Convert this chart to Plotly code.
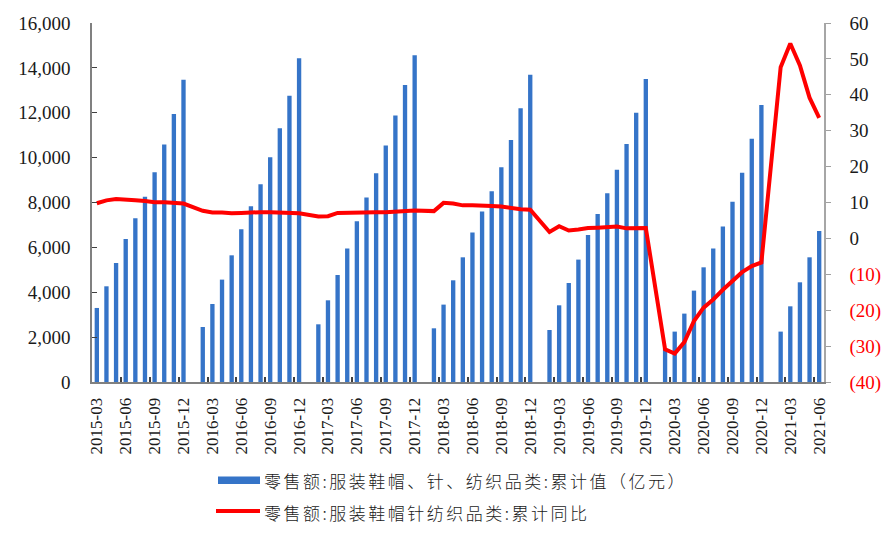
import plotly.graph_objects as go

# ---- data -------------------------------------------------------------
months = []
for y in range(2015, 2022):
    for m in range(1, 13):
        if (y == 2015 and m < 3) or (y == 2021 and m > 6):
            continue
        months.append(f"{y}-{m:02d}")

# 零售额:服装鞋帽、针、纺织品类:累计值（亿元）  (January has no separate value)
retail_2015 = [3300, 4265, 5303, 6373, 7295, 8255, 9345, 10580, 11943, 13476]
retail_2016 = [None, 2451, 3476, 4563, 5646, 6805, 7830, 8810, 10013, 11306, 12763, 14425]
retail_2017 = [None, 2571, 3641, 4768, 5945, 7162, 8225, 9300, 10535, 11872, 13240, 14559]
retail_2018 = [None, 2393, 3449, 4532, 5557, 6658, 7594, 8505, 9568, 10785, 12197, 13699]
retail_2019 = [None, 2317, 3418, 4412, 5455, 6551, 7487, 8416, 9465, 10606, 12005, 13503]
retail_2020 = [None, 1500, 2246, 3048, 4073, 5111, 5950, 6930, 8030, 9330, 10845, 12345]
retail_2021 = [None, 2246, 3373, 4443, 5557, 6729]

# 零售额:服装鞋帽针纺织品类:累计同比 (%)
yoy_2015 = [9.8, 10.6, 11.0, 10.7, 10.6, 10.4, 10.1, 10.1, 10.0, 9.7]
yoy_2016 = [None, 7.7, 7.2, 7.2, 7.0, 7.1, 7.3, 7.3, 7.3, 7.2, 6.9, 7.0]
yoy_2017 = [None, 6.1, 6.2, 7.1, 7.2, 7.3, 7.3, 7.3, 7.3, 7.4, 7.6, 7.8]
yoy_2018 = [None, 7.6, 9.9, 9.7, 9.2, 9.2, 9.2, 9.0, 8.9, 8.5, 8.1, 8.0]
yoy_2019 = [None, 1.8, 3.4, 2.2, 2.5, 2.9, 3.0, 3.2, 3.3, 2.8, 2.9, 2.9]
yoy_2020 = [None, -30.9, -32.1, -28.9, -23.0, -19.3, -17.0, -14.3, -11.9, -9.4, -7.7, -6.7]
yoy_2021 = [None, 47.7, 54.3, 48.2, 39.2, 33.6]

retail = retail_2015 + retail_2016 + retail_2017 + retail_2018 + retail_2019 + retail_2020 + retail_2021
yoy = yoy_2015 + yoy_2016 + yoy_2017 + yoy_2018 + yoy_2019 + yoy_2020 + yoy_2021

left_ticks = [0, 2000, 4000, 6000, 8000, 10000, 12000, 14000, 16000]
right_ticks = [-40, -30, -20, -10, 0, 10, 20, 30, 40, 50, 60]
right_ticktext = [
    f"<span style='color:#FF0000'>({abs(v)})</span>" if v < 0 else str(v)
    for v in right_ticks
]

name_bar = "零售额:服装鞋帽、针、纺织品类:累计值（亿元）"
name_line = "零售额:服装鞋帽针纺织品类:累计同比"

# ---- figure -----------------------------------------------------------
W, H = 895, 538
L, R, T, B = 92, 71, 23, 156
pw, ph = W - L - R, H - T - B

BLUE = "#3574C8"
RED = "#FF0000"
SERIF = "Liberation Serif, Times New Roman, serif"
CJK = "Noto Sans CJK SC, sans-serif"

fig = go.Figure()
fig.add_trace(go.Bar(
    x=months, y=retail, name=name_bar, marker=dict(color=BLUE, line=dict(width=0)),
    width=0.45, yaxis="y", showlegend=False,
))
fig.add_trace(go.Scatter(
    x=months, y=yoy, name=name_line, mode="lines", connectgaps=True,
    line=dict(color=RED, width=4), yaxis="y2", showlegend=False,
))


def px_x(p):
    return (p - L) / pw


def px_y(p):
    return (H - B - p) / ph


def spaced(t):
    return f"<span style='letter-spacing:2.5px'>{t}</span>"


shapes = [
    dict(type="rect", xref="paper", yref="paper",
         x0=px_x(218), x1=px_x(260), y0=px_y(484), y1=px_y(476.5),
         fillcolor=BLUE, line=dict(width=0)),
    dict(type="line", xref="paper", yref="paper",
         x0=px_x(216), x1=px_x(260), y0=px_y(511), y1=px_y(511),
         line=dict(color=RED, width=4)),
]
annotations = [
    dict(text=spaced(name_bar), xref="paper", yref="paper", x=px_x(262), y=px_y(480.5),
         xanchor="left", yanchor="middle", showarrow=False,
         font=dict(family=CJK, size=17, color="#1a1a1a", weight=300)),
    dict(text=spaced(name_line), xref="paper", yref="paper", x=px_x(262), y=px_y(512.5),
         xanchor="left", yanchor="middle", showarrow=False,
         font=dict(family=CJK, size=17, color="#1a1a1a", weight=300)),
]

fig.update_layout(
    width=W, height=H,
    margin=dict(l=L, r=R, t=T, b=B, pad=0),
    paper_bgcolor="white", plot_bgcolor="white",
    shapes=shapes, annotations=annotations,
    xaxis=dict(
        type="category", categoryorder="array", categoryarray=months,
        range=[-0.5, len(months) - 0.5],
        tickmode="linear", tick0=0, dtick=3,
        tickangle=-90, tickson="boundaries",
        ticks="inside", ticklen=5, tickcolor="#404040", tickwidth=1.5,
        showline=True, linecolor="#808080", linewidth=2,
        showgrid=False, zeroline=False,
        tickfont=dict(family=SERIF, size=17, color="#1a1a1a"),
        ticklabelstandoff=7,
    ),
    yaxis=dict(
        range=[0, 16000], tickvals=left_ticks, tickformat=",",
        ticks="inside", ticklen=5, tickcolor="#404040",
        showline=True, linecolor="#808080", linewidth=1.5,
        showgrid=False, zeroline=False,
        tickfont=dict(family=SERIF, size=19, color="#1a1a1a"),
        ticklabelstandoff=16,
    ),
    yaxis2=dict(
        overlaying="y", side="right", range=[-40, 60],
        tickvals=right_ticks, ticktext=right_ticktext,
        ticks="outside", ticklen=5, tickcolor="#A0A0A0",
        showline=True, linecolor="#A6A6A6", linewidth=1.5,
        showgrid=False, zeroline=False,
        tickfont=dict(family=SERIF, size=19, color="#1a1a1a"),
        ticklabelstandoff=15,
    ),
)

fig.write_html(
    "out.html",
    config={"displayModeBar": False},
    post_script="document.body.style.margin='0';document.body.style.padding='0';",
)
